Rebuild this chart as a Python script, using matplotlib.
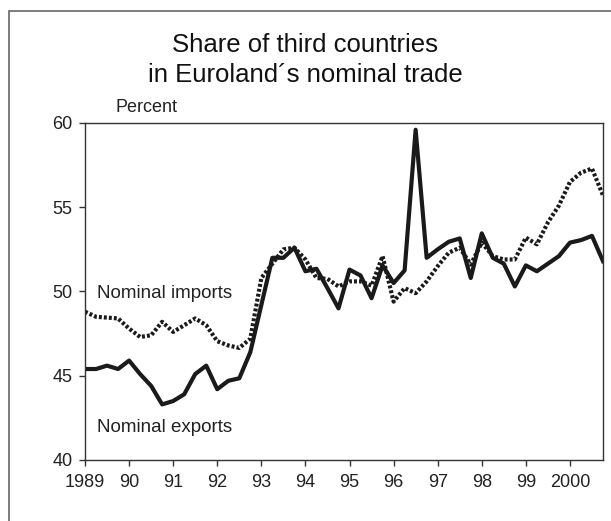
import numpy as np
import matplotlib.pyplot as plt
from matplotlib.patches import Rectangle

plt.rcParams['font.family'] = ['Liberation Sans', 'DejaVu Sans']

# quarterly data, 1989Q1 - 2000Q4
quarters = 1989 + np.arange(48) / 4.0

exports = [45.4, 45.4, 45.6, 45.4, 45.9, 45.1, 44.4, 43.3,
           43.5, 43.9, 45.1, 45.6, 44.2, 44.7, 44.85, 46.4,
           49.2, 52.0, 52.0, 52.6, 51.2, 51.35, 50.2, 49.0,
           51.3, 50.95, 49.6, 51.55, 50.5, 51.25, 59.6, 52.0,
           52.5, 52.95, 53.15, 50.8, 53.45, 52.0, 51.65, 50.3,
           51.55, 51.2, 51.65, 52.1, 52.9, 53.05, 53.3, 51.8]

imports = [48.8, 48.5, 48.45, 48.4, 47.8, 47.3, 47.4, 48.2,
           47.6, 48.0, 48.4, 48.0, 47.05, 46.8, 46.65, 47.2,
           50.8, 51.65, 52.5, 52.6, 51.9, 50.8, 50.75, 50.3,
           50.6, 50.6, 50.35, 52.1, 49.4, 50.2, 49.9, 50.6,
           51.5, 52.3, 52.6, 51.6, 52.9, 52.1, 51.9, 51.9,
           53.2, 52.8, 54.1, 55.1, 56.5, 57.05, 57.3, 55.7]

years = np.arange(1989, 2001)
year_labels = ['1989', '90', '91', '92', '93', '94', '95', '96', '97', '98', '99', '2000']

fig = plt.figure(figsize=(6.11, 5.21), dpi=100)

# frame around the figure (cut off at the right and bottom)
fig.patches.append(Rectangle((9 / 611, -0.1), 1.2, 1 - 11 / 521 + 0.1,
                             transform=fig.transFigure, fill=False,
                             edgecolor='#666666', linewidth=1.2))

ax = fig.add_axes([85 / 611, 61 / 521, 518 / 611, 337 / 521])

ax.plot(quarters, imports, color='#1a1a1a', linewidth=3, linestyle=(0, (0.7, 0.5)))
ax.plot(quarters, exports, color='#1a1a1a', linewidth=3)

ax.set_xlim(1989, 2000.75)
ax.set_ylim(40, 60)
ax.set_xticks(years)
ax.set_xticklabels(year_labels)
ax.set_yticks([40, 45, 50, 55, 60])

for s in ax.spines.values():
    s.set_color('#333333')
    s.set_linewidth(1.0)

ax.tick_params(axis='both', direction='out', length=4, width=1.0,
               color='#333333', labelsize=13, labelcolor='#222222')
ax.tick_params(axis='x', pad=6)
ax.tick_params(axis='y', pad=5)

ax.text(0.058, 1.02, 'Percent', transform=ax.transAxes, fontsize=13,
        color='#222222', ha='left', va='bottom')
ax.text(1989.27, 49.9, 'Nominal imports', fontsize=13.5, color='#222222', va='center')
ax.text(1989.27, 41.9, 'Nominal exports', fontsize=13.5, color='#222222', va='center')

fig.text(305 / 611, 1 - 60 / 521, 'Share of third countries\nin Euroland\u00b4s nominal trade',
         ha='center', va='center', fontsize=18.5, color='#111111', linespacing=1.3)

fig.savefig('out.png', dpi=100)
